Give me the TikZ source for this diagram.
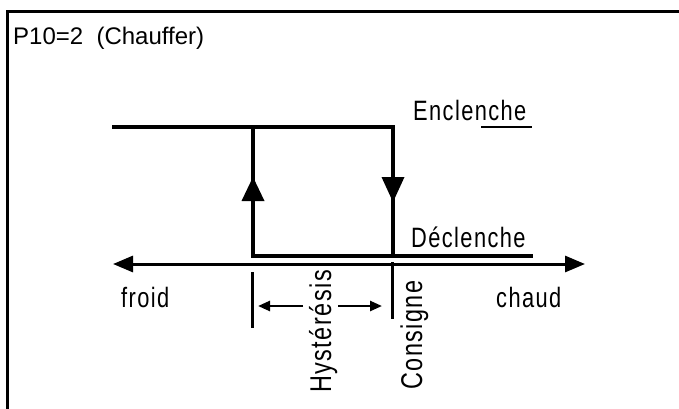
\documentclass[tikz,border=0pt]{standalone}
\usepackage{fontspec}
\setmainfont{Liberation Sans}
\newfontfamily\labelfont[FakeStretch=0.78,LetterSpace=5]{Liberation Sans}
\usetikzlibrary{arrows.meta}
\begin{document}
\begin{tikzpicture}[x=1pt,y=-1pt,
  thickline/.style={line width=4.5pt, line join=miter},
  axisline/.style={line width=3pt},
  tickline/.style={line width=3pt},
  lbl/.style={inner sep=0pt, font=\labelfont\fontsize{28}{32}\selectfont, anchor=base west},
  vlbl/.style={inner sep=0pt, font=\labelfont\fontsize{30}{34}\selectfont, anchor=base west, rotate=90},
  marker/.style={fill=black, draw=none},
  bigtip/.tip={Triangle[length=20pt,width=16pt]},
  smalltip/.tip={Triangle[length=12pt,width=10pt]}]
\useasboundingbox (0,0) rectangle (679,408);
\clip (0,0) rectangle (679,408);
% frame (cropped on right and bottom)
\draw[line width=3pt] (7,11) rectangle (720,450);
\node[inner sep=0pt, anchor=base west, font=\fontsize{24}{28}\selectfont] (title) at (13,44) {P10=2\ \ (Chauffer)};
% hysteresis loop
\coordinate (tstart) at (112,127);
\coordinate (tr) at (393,127);
\coordinate (br) at (393,256);
\coordinate (tl) at (253,127);
\coordinate (bl) at (253,256);
\coordinate (bend) at (533,256);
\draw[thickline] (tstart) -- (tr) -- (br);
\draw[thickline] (tl) -- (bl) -- (bend);
\fill[marker] (241.5,201) -- (264.5,201) -- (253,177) -- cycle;
\fill[marker] (381.5,177) -- (404.5,177) -- (393,202) -- cycle;
% axis
\coordinate (axl) at (113,264);
\coordinate (axr) at (585,264);
\draw[axisline, bigtip-bigtip] (axl) -- (axr);
% ticks
\coordinate (t1a) at (252,272);
\coordinate (t1b) at (252,328);
\coordinate (t2a) at (392,262);
\coordinate (t2b) at (392,319);
\draw[tickline] (t1a) -- (t1b);
\draw[tickline] (t2a) -- (t2b);
% hysteresis arrows
\coordinate (h1a) at (303,306);
\coordinate (h1b) at (258,306);
\coordinate (h2a) at (338,306);
\coordinate (h2b) at (382,306);
\draw[line width=2.5pt, -smalltip] (h1a) -- (h1b);
\draw[line width=2.5pt, -smalltip] (h2a) -- (h2b);
% labels
\node[lbl] (encl) at (413,120) {Enclenche};
\draw[line width=2pt] (481,127) -- (532,127);
\node[lbl] (decl) at (411,247) {Déclenche};
\node[lbl] (froid) at (121,307) {froid};
\node[lbl] (chaud) at (496,307) {chaud};
\node[vlbl] (hyst) at (331,393) {Hystérésis};
\node[vlbl] (cons) at (422,390) {Consigne};
\end{tikzpicture}
\end{document}
